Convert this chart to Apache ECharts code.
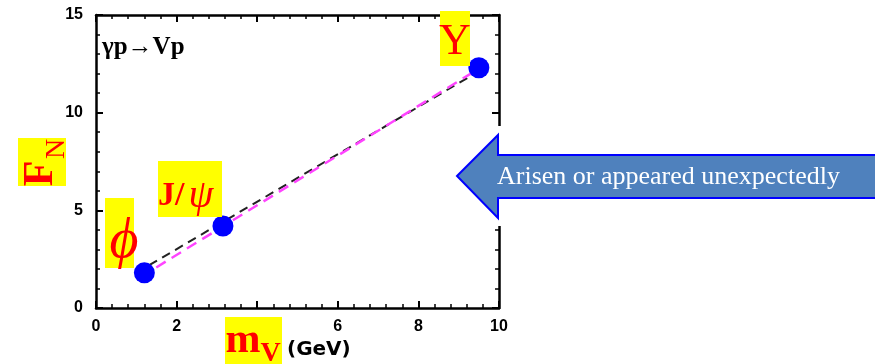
<!DOCTYPE html>
<html>
<head>
<meta charset="utf-8">
<script src="https://cdn.jsdelivr.net/npm/echarts@6/dist/echarts.min.js"></script>
<style>
  html, body { margin: 0; padding: 0; background: #fff; }
  #chart { width: 875px; height: 364px; }
</style>
</head>
<body>
<div id="chart"></div>
<script>
// vector mesons: mass (GeV) vs F_N
const mesonNames = ["ϕ", "J/ψ", "Υ"];
const mesonMass = [1.2, 3.15, 9.5];
const mesonFN = [1.8, 4.2, 12.3];

// two straight fits drawn through the points
const fitBlackX = [1.0, 9.4];
const fitBlackY = [1.8, 12.0];
const fitPinkX = [1.2, 9.3];
const fitPinkY = [1.7, 12.0];

const xTickLabels = ["0", "2", "4", "6", "8", "10"];
const yTickLabels = ["0", "5", "10", "15"];

let myChart = echarts.init(document.getElementById("chart"));

let pointData = mesonMass.map((m, i) => [m, mesonFN[i], mesonNames[i]]);
let blackData = fitBlackX.map((x, i) => [x, fitBlackY[i]]);
let pinkData = fitPinkX.map((x, i) => [x, fitPinkY[i]]);

let yellow = "#ffff00";
let red = "#ff0000";

// frame axis (bottom/left with labels, top/right only ticks)
function frameAxis(extra) {
  return Object.assign({
    type: "value",
    axisLine: { show: true, onZero: false, lineStyle: { color: "#000", width: 2.5 } },
    axisTick: { show: true, inside: true, length: 7, lineStyle: { color: "#000", width: 2 } },
    minorTick: { show: true, splitNumber: 5, length: 4, lineStyle: { color: "#000", width: 1.5 } },
    splitLine: { show: false }
  }, extra);
}

let tickFont = { color: "#000", fontFamily: "Liberation Sans", fontWeight: "bold", fontSize: 16 };

myChart.setOption({
  animation: false,
  grid: { left: 96, right: 376, top: 15, bottom: 56, containLabel: false, outerBoundsMode: "none" },
  xAxis: [
    frameAxis({
      position: "bottom", min: 0, max: 10, interval: 2,
      axisLabel: Object.assign({ margin: 11, formatter: v => xTickLabels[v / 2] }, tickFont)
    }),
    frameAxis({ position: "top", min: 0, max: 10, interval: 2, axisLabel: { show: false } })
  ],
  yAxis: [
    frameAxis({
      position: "left", min: 0, max: 15, interval: 5,
      axisLabel: Object.assign({ margin: 13, formatter: v => yTickLabels[v / 5] }, tickFont)
    }),
    frameAxis({ position: "right", min: 0, max: 15, interval: 5, axisLabel: { show: false } })
  ],
  series: [
    {
      name: "fit 1",
      type: "line",
      data: blackData,
      symbol: "none",
      z: 3,
      lineStyle: { color: "#222", width: 2, type: [9, 6] }
    },
    {
      name: "fit 2",
      type: "line",
      data: pinkData,
      symbol: "none",
      z: 4,
      lineStyle: { color: "#ff44ff", width: 2.5, type: [11, 7], dashOffset: 4 }
    },
    {
      name: "mesons",
      type: "scatter",
      data: pointData,
      symbolSize: 21,
      z: 5,
      itemStyle: { color: "#0000ff", opacity: 1 }
    }
  ],
  graphic: [
    // process label
    {
      type: "text", left: 102, top: 35, z: 10,
      style: { text: "γp→Vp", font: "bold 25px 'Liberation Serif'", fill: "#000" }
    },
    // y axis title F_N (rotated)
    { type: "rect", shape: { x: 18, y: 138, width: 48, height: 48 }, style: { fill: yellow }, z: 8 },
    {
      type: "text", x: 41, y: 173.5, rotation: Math.PI / 2, z: 9,
      style: { text: "F", font: "bold 42px 'Liberation Serif'", fill: red,
               textAlign: "center", textVerticalAlign: "middle" }
    },
    {
      type: "text", x: 56.5, y: 149, rotation: Math.PI / 2, z: 9,
      style: { text: "N", font: "28px 'Liberation Serif'", fill: red,
               textAlign: "center", textVerticalAlign: "middle" }
    },
    // x axis title m_V (GeV)
    { type: "rect", shape: { x: 225, y: 317, width: 57, height: 47 }, style: { fill: yellow }, z: 8 },
    {
      type: "text", x: 243, y: 341.5, z: 9,
      style: { text: "m", font: "bold 42px 'Liberation Serif'", fill: red,
               textAlign: "center", textVerticalAlign: "middle" }
    },
    {
      type: "text", x: 270.5, y: 354, z: 9,
      style: { text: "V", font: "bold 28px 'Liberation Serif'", fill: red,
               textAlign: "center", textVerticalAlign: "middle" }
    },
    {
      type: "text", x: 287, y: 350, z: 9,
      style: { text: "(GeV)", font: "bold 20px 'DejaVu Sans'", fill: "#000",
               textAlign: "left", textVerticalAlign: "middle" }
    },
    // meson labels
    { type: "rect", shape: { x: 105, y: 198, width: 29, height: 70 }, style: { fill: yellow }, z: 8 },
    {
      type: "text", x: 124, y: 242, z: 9,
      style: { text: mesonNames[0], font: "italic 56px 'Liberation Serif'", fill: red,
               textAlign: "center", textVerticalAlign: "middle" }
    },
    { type: "rect", shape: { x: 158, y: 161, width: 64, height: 56 }, style: { fill: yellow }, z: 8 },
    {
      type: "text", x: 158, y: 196, z: 9,
      style: {
        text: "{j|J/}{p|ψ}",
        textVerticalAlign: "middle",
        rich: {
          j: { font: "bold 34px 'Liberation Serif'", fill: red },
          p: { font: "italic 40px 'Liberation Serif'", fill: red, padding: [0, 0, 0, 4] }
        }
      }
    },
    { type: "rect", shape: { x: 440, y: 11, width: 30, height: 55 }, style: { fill: yellow }, z: 8 },
    {
      type: "text", x: 455, y: 42, z: 9,
      style: { text: mesonNames[2], font: "44px 'Liberation Serif'", fill: red,
               textAlign: "center", textVerticalAlign: "middle" }
    },
    // callout arrow
    { type: "rect", shape: { x: 452, y: 126, width: 423, height: 100 }, style: { fill: "#fff" }, z: 20 },
    {
      type: "polygon", z: 21,
      shape: { points: [[457, 176], [498, 135], [498, 155], [880, 155], [880, 198], [498, 198], [498, 218]] },
      style: { fill: "#4f81bd", stroke: "#0000ff", lineWidth: 2 }
    },
    {
      type: "text", x: 497, y: 177, z: 22,
      style: { text: "Arisen or appeared unexpectedly", font: "26px 'Liberation Serif'", fill: "#fff",
               textVerticalAlign: "middle" }
    }
  ]
});
</script>
</body>
</html>
